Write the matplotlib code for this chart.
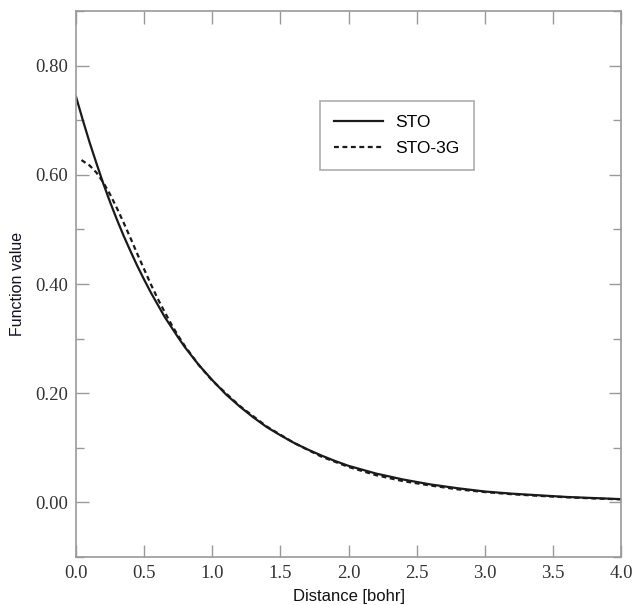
import numpy as np
import matplotlib
matplotlib.use('Agg')
import matplotlib.pyplot as plt
from matplotlib.ticker import MultipleLocator

# Slater-type 1s orbital vs. its STO-3G gaussian fit (values read per r in bohr)
r_sto = [0.0, 0.05, 0.1, 0.15, 0.2, 0.25, 0.3, 0.35, 0.4, 0.45, 0.5, 0.55, 0.6, 0.65,
         0.7, 0.75, 0.8, 0.9, 1.0, 1.1, 1.2, 1.3, 1.4, 1.5, 1.6, 1.7, 1.8, 1.9, 2.0,
         2.2, 2.4, 2.6, 2.8, 3.0, 3.2, 3.4, 3.6, 3.8, 4.0]
psi_sto = [0.743, 0.700, 0.659, 0.621, 0.584, 0.550, 0.518, 0.488, 0.460, 0.433, 0.408,
           0.384, 0.362, 0.340, 0.321, 0.302, 0.284, 0.252, 0.224, 0.198, 0.176, 0.156,
           0.138, 0.123, 0.109, 0.097, 0.086, 0.076, 0.067, 0.053, 0.042, 0.033, 0.026,
           0.020, 0.016, 0.013, 0.010, 0.008, 0.006]

r_3g = [0.04, 0.1, 0.15, 0.2, 0.25, 0.3, 0.35, 0.4, 0.45, 0.5, 0.55, 0.6, 0.65, 0.7,
        0.75, 0.8, 0.9, 1.0, 1.2, 1.4, 1.6, 1.8, 2.0, 2.2, 2.4, 2.6, 2.8, 3.0, 3.2,
        3.4, 3.6, 3.8, 4.0]
psi_3g = [0.627, 0.617, 0.604, 0.586, 0.564, 0.539, 0.512, 0.484, 0.455, 0.427, 0.399,
          0.373, 0.349, 0.326, 0.305, 0.286, 0.252, 0.223, 0.177, 0.139, 0.109, 0.084,
          0.065, 0.050, 0.039, 0.031, 0.024, 0.019, 0.015, 0.012, 0.0094, 0.0073, 0.0056]

x_ticks = [0.0, 0.5, 1.0, 1.5, 2.0, 2.5, 3.0, 3.5, 4.0]
y_ticks = [0.0, 0.2, 0.4, 0.6, 0.8]

fig = plt.figure(figsize=(6.32, 6.05), dpi=100)
ax = fig.add_axes([0.1203, 0.0793, 0.8623, 0.9025])

ax.plot(r_sto, psi_sto, color='#1a1a1a', lw=1.6, label='STO')
ax.plot(r_3g, psi_3g, color='#1a1a1a', lw=1.6, dashes=(2.2, 1.6), label='STO-3G')

ax.set_xlim(0, 4)
ax.set_ylim(-0.1, 0.9)

ax.set_xticks(x_ticks)
ax.set_xticklabels(['%.1f' % v for v in x_ticks])
ax.set_yticks(y_ticks)
ax.set_yticklabels(['%.2f' % v for v in y_ticks])
ax.yaxis.set_minor_locator(MultipleLocator(0.1))

for sp in ax.spines.values():
    sp.set_color('#999999')
    sp.set_linewidth(1.2)

ax.tick_params(which='both', direction='in', top=True, right=True, color='#999999',
               width=1.0, labelcolor='#333333')
ax.tick_params(which='major', length=9, pad=6)
ax.tick_params(which='minor', length=6)
for lbl in ax.get_xticklabels() + ax.get_yticklabels():
    lbl.set_family('Liberation Serif')
    lbl.set_fontsize(13.5)

ax.set_xlabel('Distance [bohr]', family='Liberation Sans', fontsize=12, color='#111111', labelpad=5)
ax.set_ylabel('Function value', family='Liberation Sans', fontsize=11.5, color='#111122', labelpad=7)

leg = ax.legend(loc='upper left', bbox_to_anchor=(0.4477, 0.835), frameon=True, fancybox=False,
                handlelength=2.8, handletextpad=0.75, borderpad=0.8, labelspacing=0.6,
                borderaxespad=0, prop={'family': 'Liberation Sans', 'size': 12.5})
leg.get_frame().set_edgecolor('#999999')
leg.get_frame().set_linewidth(1.2)

fig.savefig('out.png', dpi=100)
